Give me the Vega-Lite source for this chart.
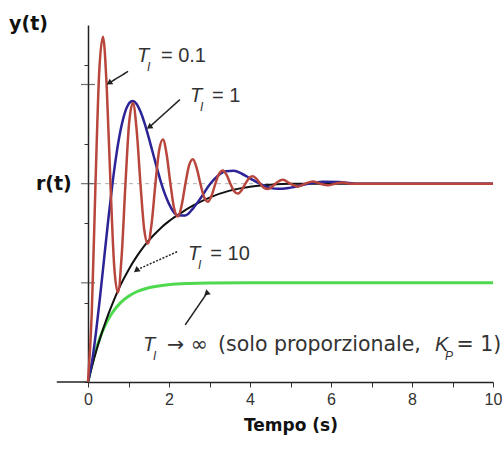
{
  "$schema": "https://vega.github.io/schema/vega-lite/v6.json",
  "width": 405,
  "height": 357,
  "autosize": {"type": "none"},
  "padding": {"left": 88, "top": 25, "right": 9, "bottom": 71},
  "background": "white",
  "config": {"view": {"stroke": null}, "axis": {"grid": false}},
  "datasets": {
    "red": [{"t":0,"y":0},{"t":0.0925,"y":0.344},{"t":0.185,"y":1},{"t":0.2775,"y":1.565},{"t":0.37,"y":1.741},{"t":0.4625,"y":1.486},{"t":0.555,"y":1},{"t":0.6475,"y":0.582},{"t":0.74,"y":0.451},{"t":0.8325,"y":0.64},{"t":0.925,"y":1},{"t":1.0175,"y":1.31},{"t":1.11,"y":1.407},{"t":1.2025,"y":1.267},{"t":1.295,"y":1},{"t":1.3875,"y":0.77},{"t":1.48,"y":0.698},{"t":1.5725,"y":0.802},{"t":1.665,"y":1},{"t":1.7575,"y":1.17},{"t":1.85,"y":1.223},{"t":1.9425,"y":1.147},{"t":2.035,"y":1},{"t":2.1275,"y":0.874},{"t":2.22,"y":0.834},{"t":2.3125,"y":0.891},{"t":2.405,"y":1},{"t":2.4975,"y":1.093},{"t":2.59,"y":1.123},{"t":2.6825,"y":1.08},{"t":2.775,"y":1},{"t":2.8675,"y":0.931},{"t":2.96,"y":0.909},{"t":3.0525,"y":0.94},{"t":3.145,"y":1},{"t":3.2375,"y":1.051},{"t":3.33,"y":1.067},{"t":3.4225,"y":1.044},{"t":3.515,"y":1},{"t":3.6075,"y":0.962},{"t":3.7,"y":0.95},{"t":3.7925,"y":0.967},{"t":3.885,"y":1},{"t":3.9775,"y":1.028},{"t":4.07,"y":1.037},{"t":4.1625,"y":1.024},{"t":4.255,"y":1},{"t":4.3475,"y":0.979},{"t":4.44,"y":0.973},{"t":4.5325,"y":0.982},{"t":4.625,"y":1},{"t":4.81,"y":1.02},{"t":4.995,"y":1},{"t":5.18,"y":0.985},{"t":5.365,"y":1},{"t":5.55,"y":1.011},{"t":5.735,"y":1},{"t":5.92,"y":0.992},{"t":6.105,"y":1},{"t":6.29,"y":1.006},{"t":6.475,"y":1},{"t":7,"y":1},{"t":8,"y":1},{"t":9,"y":1},{"t":10,"y":1}],
    "blue": [{"t":0,"y":0},{"t":0.1,"y":0.104},{"t":0.2,"y":0.255},{"t":0.3,"y":0.434},{"t":0.4,"y":0.626},{"t":0.5,"y":0.817},{"t":0.6,"y":0.993},{"t":0.7,"y":1.145},{"t":0.8,"y":1.265},{"t":0.9,"y":1.351},{"t":1.0,"y":1.401},{"t":1.1,"y":1.417},{"t":1.2,"y":1.402},{"t":1.3,"y":1.361},{"t":1.4,"y":1.303},{"t":1.5,"y":1.232},{"t":1.6,"y":1.156},{"t":1.7,"y":1.08},{"t":1.8,"y":1.008},{"t":1.9,"y":0.947},{"t":2.0,"y":0.898},{"t":2.2,"y":0.841},{"t":2.4,"y":0.839},{"t":2.6,"y":0.877},{"t":2.8,"y":0.933},{"t":3.0,"y":0.994},{"t":3.2,"y":1.039},{"t":3.4,"y":1.063},{"t":3.6,"y":1.065},{"t":3.8,"y":1.05},{"t":4.0,"y":1.027},{"t":4.2,"y":1.004},{"t":4.4,"y":0.985},{"t":4.6,"y":0.975},{"t":4.8,"y":0.974},{"t":5.0,"y":0.98},{"t":5.4,"y":0.998},{"t":5.8,"y":1.01},{"t":6.2,"y":1.008},{"t":6.6,"y":1},{"t":7,"y":1},{"t":8,"y":1},{"t":10,"y":1}],
    "black": [{"t":0,"y":0},{"t":0.1,"y":0.08},{"t":0.2,"y":0.154},{"t":0.3,"y":0.221},{"t":0.4,"y":0.283},{"t":0.5,"y":0.341},{"t":0.6,"y":0.393},{"t":0.8,"y":0.487},{"t":1.0,"y":0.565},{"t":1.2,"y":0.632},{"t":1.4,"y":0.689},{"t":1.6,"y":0.736},{"t":1.8,"y":0.777},{"t":2.0,"y":0.811},{"t":2.3,"y":0.853},{"t":2.6,"y":0.89},{"t":3.0,"y":0.93},{"t":3.5,"y":0.965},{"t":4.0,"y":0.985},{"t":4.5,"y":0.995},{"t":5,"y":1},{"t":6,"y":1},{"t":8,"y":1},{"t":10,"y":1}],
    "green": [{"t":0,"y":0},{"t":0.1,"y":0.091},{"t":0.2,"y":0.165},{"t":0.3,"y":0.226},{"t":0.4,"y":0.275},{"t":0.5,"y":0.316},{"t":0.6,"y":0.349},{"t":0.8,"y":0.399},{"t":1.0,"y":0.432},{"t":1.2,"y":0.455},{"t":1.5,"y":0.475},{"t":2.0,"y":0.491},{"t":2.5,"y":0.497},{"t":3,"y":0.499},{"t":4,"y":0.5},{"t":10,"y":0.5}],
    "arrows": [
      {"id":"a","x":0.99,"y":1.566,"x2":0.54,"y2":1.51},
      {"id":"b","x":2.27,"y":1.424,"x2":1.53,"y2":1.288},
      {"id":"c","x":2.2,"y":0.657,"x2":1.21,"y2":0.566},
      {"id":"d","x":2.4,"y":0.288,"x2":2.94,"y2":0.449}
    ],
    "letters": [
      {"x":1.21,"y":1.611,"letter":"T","sub":"I"},
      {"x":2.52,"y":1.414,"letter":"T","sub":"I"},
      {"x":2.47,"y":0.616,"letter":"T","sub":"I"},
      {"x":1.36,"y":0.157,"letter":"T","sub":"I"},
      {"x":8.57,"y":0.157,"letter":"K","sub":"P"}
    ],
    "rest": [
      {"x":1.8,"y":1.611,"text":"= 0.1"},
      {"x":3.06,"y":1.414,"text":"= 1"},
      {"x":3.02,"y":0.616,"text":"= 10"}
    ],
    "restlong": [
      {"x":1.95,"y":0.157,"text":"→ ∞"},
      {"x":3.21,"y":0.157,"text":"(solo proporzionale,"},
      {"x":9.1,"y":0.157,"text":"= 1)"}
    ],
    "reflabel": [{"x":-0.4,"y":1,"text":"r(t)"}],
    "major": [{"v":0.5},{"v":1},{"v":1.5}],
    "ref": [{"y":1}],
    "xext": [{"x":-0.77,"x2":0,"y":0}]
  },
  "layer": [
    {
      "data": {"name": "ref"},
      "mark": {"type": "rule", "color": "#b0b0b0", "strokeDash": [4, 4], "strokeWidth": 1},
      "encoding": {
        "y": {"field": "y", "type": "quantitative", "scale": {"domain": [0, 1.8], "nice": false, "zero": false},
          "axis": {"values": [0,0.1,0.2,0.3,0.4,0.5,0.6,0.7,0.8,0.9,1,1.1,1.2,1.3,1.4,1.5,1.6,1.7,1.8],
            "labels": false,
            "tickSize": 4, "tickColor": "#333", "domainColor": "#222", "domainWidth": 1.5,
            "title": "y(t)", "titleAngle": 0, "titleFont": "DejaVu Sans", "titleFontWeight": "bold", "titleFontSize": 19, "titleColor": "#111",
            "titleX": -60, "titleY": -2, "titleAlign": "center", "titleBaseline": "middle"}}
      }
    },
    {
      "data": {"name": "xext"},
      "mark": {"type": "rule", "color": "#222", "strokeWidth": 1.5},
      "encoding": {
        "x": {"field": "x", "type": "quantitative", "scale": {"domain": [0, 10], "nice": false, "zero": false},
          "axis": {"values": [0,1,2,3,4,5,6,7,8,9,10], "labelExpr": "datum.value % 2 == 0 ? datum.label : ''",
            "labelFont": "Liberation Sans", "labelFontSize": 16, "labelColor": "#333", "labelPadding": 4, "labelFlush": false, "labelOverlap": false,
            "tickSize": 5, "tickColor": "#333", "domainColor": "#222", "domainWidth": 1.5,
            "title": "Tempo (s)", "titleFont": "DejaVu Sans", "titleFontWeight": "bold", "titleFontSize": 17, "titleColor": "#111", "titlePadding": 10}},
        "x2": {"field": "x2"},
        "y": {"field": "y", "type": "quantitative"}
      }
    },
    {
      "data": {"name": "major"},
      "mark": {"type": "tick", "orient": "horizontal", "color": "#333", "size": 14, "thickness": 1.2},
      "encoding": {"x": {"datum": 0, "type": "quantitative"}, "y": {"field": "v", "type": "quantitative"}}
    },
    {
      "data": {"name": "reflabel"},
      "mark": {"type": "text", "align": "right", "baseline": "middle", "font": "DejaVu Sans", "fontWeight": "bold", "fontSize": 19, "color": "#111"},
      "encoding": {"x": {"field": "x", "type": "quantitative"}, "y": {"field": "y", "type": "quantitative"}, "text": {"field": "text"}}
    },
    {
      "data": {"name": "green"},
      "mark": {"type": "line", "color": "#4fd94f", "strokeWidth": 3, "interpolate": "monotone"},
      "encoding": {"x": {"field": "t", "type": "quantitative"}, "y": {"field": "y", "type": "quantitative"}}
    },
    {
      "data": {"name": "black"},
      "mark": {"type": "line", "color": "#111111", "strokeWidth": 2, "interpolate": "monotone"},
      "encoding": {"x": {"field": "t", "type": "quantitative"}, "y": {"field": "y", "type": "quantitative"}}
    },
    {
      "data": {"name": "blue"},
      "mark": {"type": "line", "color": "#2c2496", "strokeWidth": 2.5, "interpolate": "monotone"},
      "encoding": {"x": {"field": "t", "type": "quantitative"}, "y": {"field": "y", "type": "quantitative"}}
    },
    {
      "data": {"name": "red"},
      "mark": {"type": "line", "color": "#b8463c", "strokeWidth": 2.5, "interpolate": "monotone"},
      "encoding": {"x": {"field": "t", "type": "quantitative"}, "y": {"field": "y", "type": "quantitative"}}
    },
    {
      "data": {"name": "arrows"},
      "mark": {"type": "rule", "color": "#222", "strokeWidth": 1.5},
      "encoding": {
        "x": {"field": "x", "type": "quantitative"}, "y": {"field": "y", "type": "quantitative"},
        "x2": {"field": "x2"}, "y2": {"field": "y2"},
        "strokeDash": {"field": "id", "type": "nominal", "scale": {"domain": ["a","b","c","d"], "range": [[1,0],[1,0],[2,1.5],[1,0]]}, "legend": null}
      }
    },
    {
      "data": {"name": "arrows"},
      "mark": {"type": "point", "shape": "triangle", "filled": true, "color": "#222", "size": 45, "opacity": 1},
      "encoding": {
        "x": {"field": "x2", "type": "quantitative"}, "y": {"field": "y2", "type": "quantitative"},
        "angle": {"field": "id", "type": "ordinal", "scale": {"domain": ["a","b","c","d"], "range": [238.6, 228, 245.8, 34.5]}, "legend": null}
      }
    },
    {
      "data": {"name": "letters"},
      "mark": {"type": "text", "align": "left", "baseline": "alphabetic", "font": "Liberation Sans", "fontStyle": "italic", "fontSize": 20, "color": "#333"},
      "encoding": {"x": {"field": "x", "type": "quantitative"}, "y": {"field": "y", "type": "quantitative"}, "text": {"field": "letter"}}
    },
    {
      "data": {"name": "letters"},
      "mark": {"type": "text", "align": "left", "baseline": "alphabetic", "font": "Liberation Sans", "fontStyle": "italic", "fontSize": 12, "color": "#333", "dx": 10, "dy": 9},
      "encoding": {"x": {"field": "x", "type": "quantitative"}, "y": {"field": "y", "type": "quantitative"}, "text": {"field": "sub"}}
    },
    {
      "data": {"name": "rest"},
      "mark": {"type": "text", "align": "left", "baseline": "alphabetic", "font": "Liberation Sans", "fontSize": 20, "color": "#333"},
      "encoding": {"x": {"field": "x", "type": "quantitative"}, "y": {"field": "y", "type": "quantitative"}, "text": {"field": "text"}}
    },
    {
      "data": {"name": "restlong"},
      "mark": {"type": "text", "align": "left", "baseline": "alphabetic", "font": "DejaVu Sans", "fontSize": 20.5, "color": "#333"},
      "encoding": {"x": {"field": "x", "type": "quantitative"}, "y": {"field": "y", "type": "quantitative"}, "text": {"field": "text"}}
    }
  ]
}
